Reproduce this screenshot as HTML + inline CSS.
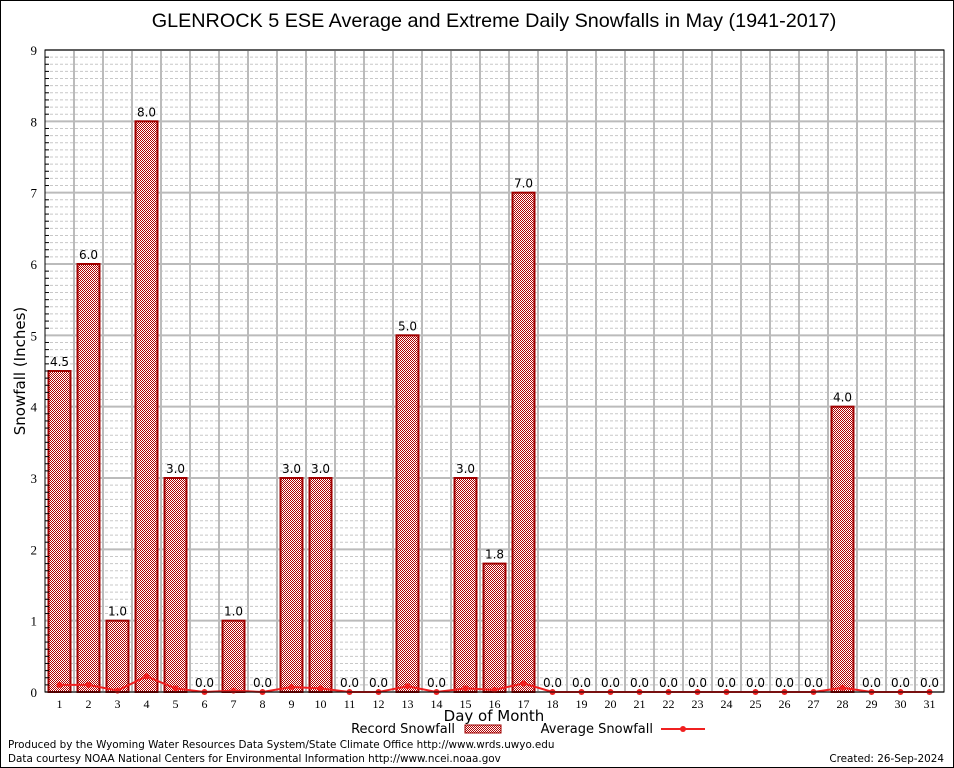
<!DOCTYPE html>
<html><head><meta charset="utf-8"><style>
body{margin:0;background:#fff}
svg{display:block;font-family:"DejaVu Sans","Liberation Sans",sans-serif}
</style></head><body>
<svg id="c" width="954" height="768">
<defs><pattern id="chk" width="2" height="2" patternUnits="userSpaceOnUse"><rect width="2" height="2" fill="#fff"/><rect width="1" height="1" fill="#b00000"/><rect x="1" y="1" width="1" height="1" fill="#b00000"/></pattern></defs>
<rect x="0.5" y="0.5" width="953" height="767" fill="#fff" stroke="#000"/>
<text x="494" y="27" font-size="19.8" text-anchor="middle" font-family="Liberation Sans, sans-serif">GLENROCK 5 ESE Average and Extreme Daily Snowfalls in May (1941-2017)</text>
<g id="grid"></g><g id="bars"></g><g id="avg"></g><g id="axes"></g>
<text x="25" y="371" font-size="15" text-anchor="middle" transform="rotate(-90 25 371)">Snowfall (Inches)</text>
<text x="494" y="721" font-size="15" text-anchor="middle">Day of Month</text>
<g font-size="13">
<text x="455" y="733" text-anchor="end">Record Snowfall</text>
<rect x="465" y="725" width="36" height="8" fill="url(#chk)" stroke="#a00000"/>
<text x="653" y="733" text-anchor="end">Average Snowfall</text>
<line x1="661" y1="729" x2="705" y2="729" stroke="#f02020" stroke-width="2"/>
<circle cx="683" cy="729" r="3" fill="#f02020"/>
</g>
<text x="8" y="748" font-size="10.4">Produced by the Wyoming Water Resources Data System/State Climate Office http://www.wrds.uwyo.edu</text>
<text x="8" y="762" font-size="10.4">Data courtesy NOAA National Centers for Environmental Information http://www.ncei.noaa.gov</text>
<text x="944" y="762" font-size="10.4" text-anchor="end">Created:  26-Sep-2024</text>
</svg>
<script>
const days=[1,2,3,4,5,6,7,8,9,10,11,12,13,14,15,16,17,18,19,20,21,22,23,24,25,26,27,28,29,30,31];
const records=[4.5,6.0,1.0,8.0,3.0,0,1.0,0,3.0,3.0,0,0,5.0,0,3.0,1.8,7.0,0,0,0,0,0,0,0,0,0,0,4.0,0,0,0];
const averages=[0.1,0.1,0.02,0.22,0.05,0,0.02,0,0.07,0.05,0,0,0.08,0,0.05,0.03,0.12,0,0,0,0,0,0,0,0,0,0,0.06,0,0,0];
const yTicks=[0,1,2,3,4,5,6,7,8,9];
const L=45,R=944,T=50,B=692,yMax=9;
const NS="http://www.w3.org/2000/svg";
const dw=(R-L)/days.length;
const x=d=>L+dw*(d-0.5);
const y=v=>B-(v/yMax)*(B-T);
function mk(p,t,a){const e=document.createElementNS(NS,t);for(const k in a)e.setAttribute(k,a[k]);document.getElementById(p).appendChild(e);return e;}
for(let i=0;i<yMax*10;i++){if(i%10==0)continue;const yy=y(i/10);
const g=mk('grid','line',{x1:L,x2:R,y1:yy,y2:yy,stroke:'#c8c8c8','stroke-dasharray':'3,2','stroke-width':1});


const tk=mk('axes','line',{x1:L,x2:L+4,y1:yy,y2:yy,stroke:'#000'});

}
yTicks.forEach(v=>{const yy=y(v);
const g=mk('grid','line',{x1:L,x2:R,y1:yy,y2:yy,stroke:'#bbb','stroke-width':2});


const t=mk('axes','text',{x:L-8,y:yy+5,'font-size':13,'text-anchor':'end','font-family':'Liberation Serif, serif'});t.textContent=v;

});
for(let i=1;i<days.length;i++){const xx=L+dw*i;
const g=mk('grid','line',{x1:xx,x2:xx,y1:T,y2:B,stroke:'#bbb','stroke-width':2});

}
days.forEach((d,i)=>{const xx=x(d);
const t=mk('axes','text',{x:xx,y:B+16,'font-size':12,'text-anchor':'middle','font-family':'Liberation Serif, serif'});t.textContent=d;


const v=records[i];
if(v>0){const r=mk('bars','rect',{x:xx-11,y:y(v),width:22,height:B-y(v),fill:'url(#chk)',stroke:'#a00000','stroke-width':2});

}
const l=mk('bars','text',{x:xx,y:y(v)-5,'font-size':12,'text-anchor':'middle'});l.textContent=v.toFixed(1);

});
const pl=mk('avg','polyline',{points:days.map((d,i)=>x(d)+','+y(averages[i])).join(' '),fill:'none',stroke:'#f02020','stroke-width':2});


days.forEach((d,i)=>{const c=mk('avg','circle',{cx:x(d),cy:y(averages[i]),r:3,fill:'#f02020'});

});
const f=mk('axes','rect',{x:L,y:T,width:R-L,height:B-T,fill:'none',stroke:'#000','stroke-width':1});


</script>
</body></html>
